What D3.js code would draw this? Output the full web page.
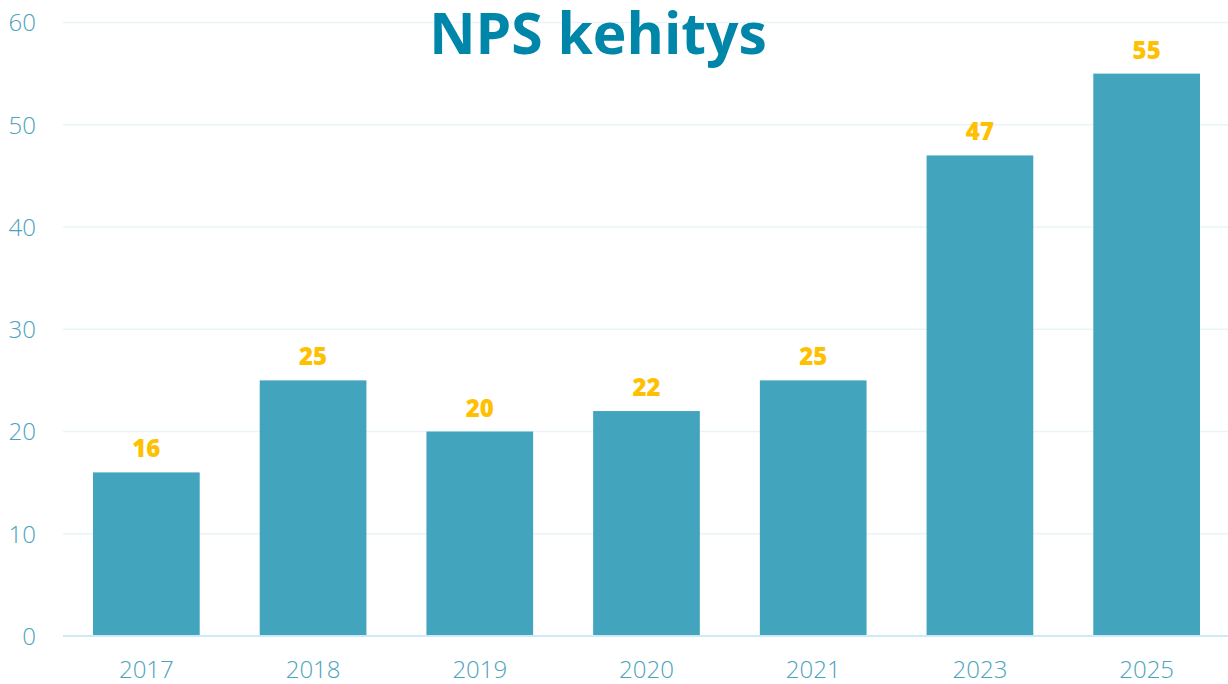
<!DOCTYPE html>
<html>
<head>
<meta charset="utf-8">
<script src="https://cdn.jsdelivr.net/npm/d3@7"></script>
<style>
  html, body { margin: 0; padding: 0; background: #ffffff; }
  svg { display: block; font-family: "Open Sans", sans-serif; }
</style>
</head>
<body>
<svg id="chart" width="1228" height="684"></svg>
<script>
// NPS score per survey year
const years = ["2017", "2018", "2019", "2020", "2021", "2023", "2025"];
const npsValues = [16, 25, 20, 22, 25, 47, 55];
const yTicks = [0, 10, 20, 30, 40, 50, 60];
const chartTitle = "NPS kehitys";

const svg = d3.select("#chart");
const W = 1228;
const plotLeft = 63;
const plotBottom = 636;

const x = d3.scaleBand()
  .domain(years)
  .range([plotLeft, 1230])
  .paddingInner(0.36)
  .paddingOuter(0.18);

const y = d3.scaleLinear()
  .domain([0, 60])
  .range([plotBottom, 22.5]);

// horizontal grid lines
svg.append("g")
  .selectAll("line")
  .data(yTicks.filter(d => d !== 0))
  .join("line")
  .attr("x1", plotLeft)
  .attr("x2", W)
  .attr("y1", d => y(d))
  .attr("y2", d => y(d))
  .attr("stroke", "#e9f4f8")
  .attr("stroke-width", 1.5);

// y axis labels
const yAxis = d3.axisLeft(y).tickValues(yTicks).tickSize(0).tickPadding(0);
const yg = svg.append("g").attr("transform", "translate(36,0)").call(yAxis);
yg.select(".domain").remove();
yg.selectAll("text")
  .attr("fill", "#4aa3bd")
  .attr("font-size", 24)
  .attr("font-weight", 300)
  .attr("font-family", "Open Sans, sans-serif")
  .attr("dy", "0.35em");

// bars
svg.append("g")
  .selectAll("rect")
  .data(years)
  .join("rect")
  .attr("x", d => x(d))
  .attr("width", x.bandwidth())
  .attr("y", (d, i) => y(npsValues[i]))
  .attr("height", (d, i) => y(0) - y(npsValues[i]))
  .attr("fill", "#42a5bd");

// baseline
svg.append("line")
  .attr("x1", plotLeft)
  .attr("x2", W)
  .attr("y1", y(0))
  .attr("y2", y(0))
  .attr("stroke", "#cdebf6")
  .attr("stroke-width", 2);

// x axis labels
const xAxis = d3.axisBottom(x).tickSize(0).tickPadding(0);
const xg = svg.append("g").attr("transform", `translate(0,${y(0)})`).call(xAxis);
xg.select(".domain").remove();
xg.selectAll("text")
  .attr("fill", "#4aa3bd")
  .attr("font-size", 24)
  .attr("font-weight", 300)
  .attr("font-family", "Open Sans, sans-serif")
  .attr("dy", null)
  .attr("y", 42);

// value labels
svg.append("g")
  .selectAll("text")
  .data(years)
  .join("text")
  .attr("x", d => x(d) + x.bandwidth() / 2)
  .attr("y", (d, i) => y(npsValues[i]) - 15)
  .attr("text-anchor", "middle")
  .attr("fill", "#ffc000")
  .attr("font-size", 24)
  .attr("font-weight", 800)
  .text((d, i) => npsValues[i]);

// title
svg.append("text")
  .attr("x", 598)
  .attr("y", 54)
  .attr("text-anchor", "middle")
  .attr("fill", "#0086a8")
  .attr("font-size", 57)
  .attr("font-weight", 700)
  .text(chartTitle);
</script>
</body>
</html>
